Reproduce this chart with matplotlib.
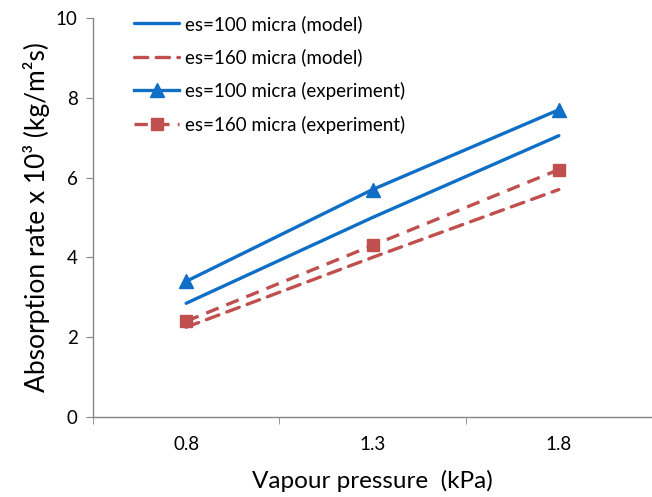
import matplotlib
matplotlib.use("Agg")
import matplotlib.pyplot as plt

categories = ["0.8", "1.3", "1.8"]
model_100 = [2.85, 5.0, 7.05]
model_160 = [2.25, 4.0, 5.7]
exp_100 = [3.4, 5.7, 7.7]
exp_160 = [2.4, 4.3, 6.2]

plt.rcParams['font.family'] = ['Lato', 'DejaVu Sans']

blue = '#0F6FC6'
red = '#C0504D'

fig = plt.figure(figsize=(6.52, 4.97), dpi=100)
ax = fig.add_axes([93/652, 80/497, 559/652, 399/497])

x = list(range(len(categories)))
ax.plot(x, model_100, color=blue, lw=2.4, label='es=100 micra (model)', solid_capstyle='round')
ax.plot(x, model_160, color=red, lw=2.4, dashes=(4, 2.5), label='es=160 micra (model)', dash_capstyle='round')
ax.plot(x, exp_100, color=blue, lw=2.4, marker='^', markersize=9.5, label='es=100 micra (experiment)')
ax.plot(x, exp_160, color=red, lw=2.4, dashes=(4, 2.5), marker='s', markersize=8.5, label='es=160 micra (experiment)')

ax.set_xlim(-0.5, 2.475)
ax.set_ylim(0, 10)
ax.set_yticks([0, 2, 4, 6, 8, 10])
ax.set_xticks(x)
ax.set_xticklabels(categories)
ax.set_xticks([-0.5, 0.5, 1.5, 2.5], minor=True)
ax.tick_params(axis='x', which='major', length=0, pad=14, labelsize=13.5)
ax.tick_params(axis='x', which='minor', length=5, color='#868686', direction='out')
ax.tick_params(axis='y', length=5, color='#868686', direction='out', labelsize=13.5, pad=6)

for s in ['top', 'right']:
    ax.spines[s].set_visible(False)
for s in ['left', 'bottom']:
    ax.spines[s].set_color('#868686')
    ax.spines[s].set_linewidth(1.0)

ax.set_xlabel('Vapour pressure  (kPa)', fontsize=17.5, labelpad=12)
ax.set_ylabel('Absorption rate x 10³ (kg/m²s)', fontsize=19, labelpad=4)

leg = ax.legend(loc='upper left', bbox_to_anchor=(0.044, 1.05), frameon=False,
                fontsize=13.5, handlelength=2.4, labelspacing=0.83, handletextpad=0.3)

fig.savefig('out.png', dpi=100)
